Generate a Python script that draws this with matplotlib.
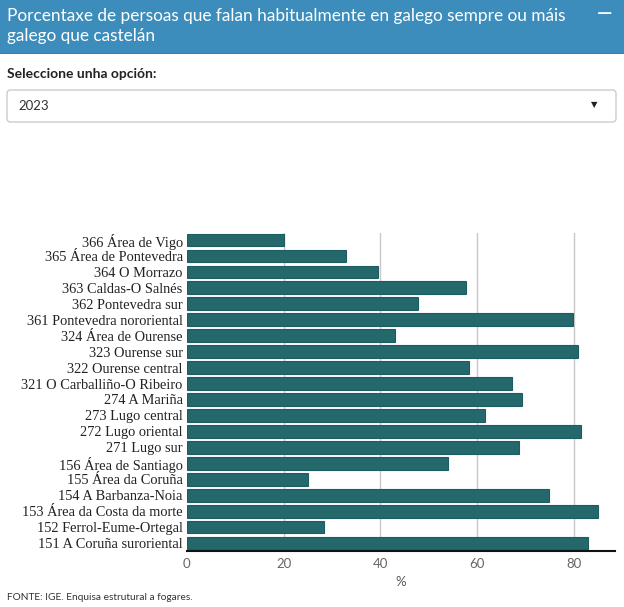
import matplotlib
matplotlib.use("Agg")
import matplotlib.pyplot as plt
from matplotlib.patches import Rectangle, FancyBboxPatch

categories = [
    "151 A Coruña suroriental", "152 Ferrol-Eume-Ortegal", "153 Área da Costa da morte",
    "154 A Barbanza-Noia", "155 Área da Coruña", "156 Área de Santiago",
    "271 Lugo sur", "272 Lugo oriental", "273 Lugo central", "274 A Mariña",
    "321 O Carballiño-O Ribeiro", "322 Ourense central", "323 Ourense sur",
    "324 Área de Ourense", "361 Pontevedra nororiental", "362 Pontevedra sur",
    "363 Caldas-O Salnés", "364 O Morrazo", "365 Área de Pontevedra", "366 Área de Vigo",
]
values = [82.9, 28.3, 84.9, 74.8, 25.0, 54.0, 68.7, 81.5, 61.6, 69.3,
          67.1, 58.3, 80.8, 43.1, 79.8, 47.7, 57.6, 39.5, 32.8, 20.0]
xticks = [0, 20, 40, 60, 80]

W, H = 624, 607
fig = plt.figure(figsize=(W / 100, H / 100), dpi=100)

# header
fig.patches.append(Rectangle((0, 1 - 53 / H), 1, 53 / H, transform=fig.transFigure,
                             facecolor="#3c8dbc", edgecolor="none", zorder=0))
fig.patches.append(Rectangle((0, 1 - 54 / H), 1, 1.5 / H, transform=fig.transFigure,
                             facecolor="#367fa9", edgecolor="none", zorder=0))
fig.text(7 / W, 1 - 16 / H, "Porcentaxe de persoas que falan habitualmente en galego sempre ou máis",
         color="white", fontsize=12.4, family="Lato", va="center", ha="left")
fig.text(7 / W, 1 - 36 / H, "galego que castelán",
         color="white", fontsize=12.4, family="Lato", va="center", ha="left")
fig.text(605 / W, 1 - 14 / H, "−", color="white", fontsize=15, family="DejaVu Sans",
         va="center", ha="center")

fig.text(7 / W, 1 - 74 / H, "Seleccione unha opción:", color="#222222", fontsize=10,
         family="Lato", weight="bold", va="center", ha="left")
fig.patches.append(FancyBboxPatch((7 / W, 1 - 122 / H), 609 / W, 32 / H,
                                  boxstyle="round,pad=0,rounding_size=0.006",
                                  transform=fig.transFigure, facecolor="white",
                                  edgecolor="#cccccc", linewidth=1))
fig.text(18 / W, 1 - 106 / H, "2023", color="#333333", fontsize=9.5, family="Lato",
         va="center", ha="left")
fig.text(594 / W, 1 - 105 / H, "▼", color="#222222", fontsize=6, family="DejaVu Sans",
         va="center", ha="center")

fig.text(7 / W, 1 - 598 / H, "FONTE: IGE. Enquisa estrutural a fogares.", color="#333333",
         fontsize=7.3, family="Lato", va="center", ha="left")

# chart
ax = fig.add_axes([186.8 / W, 1 - 551 / H, (615 - 186.8) / W, (551 - 233) / H])
ypos = list(range(len(categories)))
ax.barh(ypos, values, height=0.8, color="#25686c", edgecolor="#1d5c60", linewidth=0.8, zorder=3)
ax.set_xlim(0, (615 - 186.8) / 4.84)
ax.set_ylim(-0.5, 19.44)
ax.set_yticks(ypos)
ax.set_yticklabels(categories, family="Liberation Serif", fontsize=10.4, color="#222222")
ax.set_xticks(xticks)
ax.set_xticklabels([str(t) for t in xticks], family="Lato", fontsize=9.5, color="#666666")
ax.tick_params(axis="y", length=0, pad=3)
ax.tick_params(axis="x", length=0, pad=5)
for t in xticks[1:]:
    ax.axvline(t, color="#c8c8c8", linewidth=1, zorder=1)
for s in ["top", "right", "left"]:
    ax.spines[s].set_visible(False)
ax.spines["bottom"].set_color("#111111")
ax.spines["bottom"].set_linewidth(1.5)
ax.set_xlabel("%", family="Lato", fontsize=9.5, color="#555555", labelpad=4)
ax.set_facecolor("none")

fig.savefig("out.png", dpi=100)
